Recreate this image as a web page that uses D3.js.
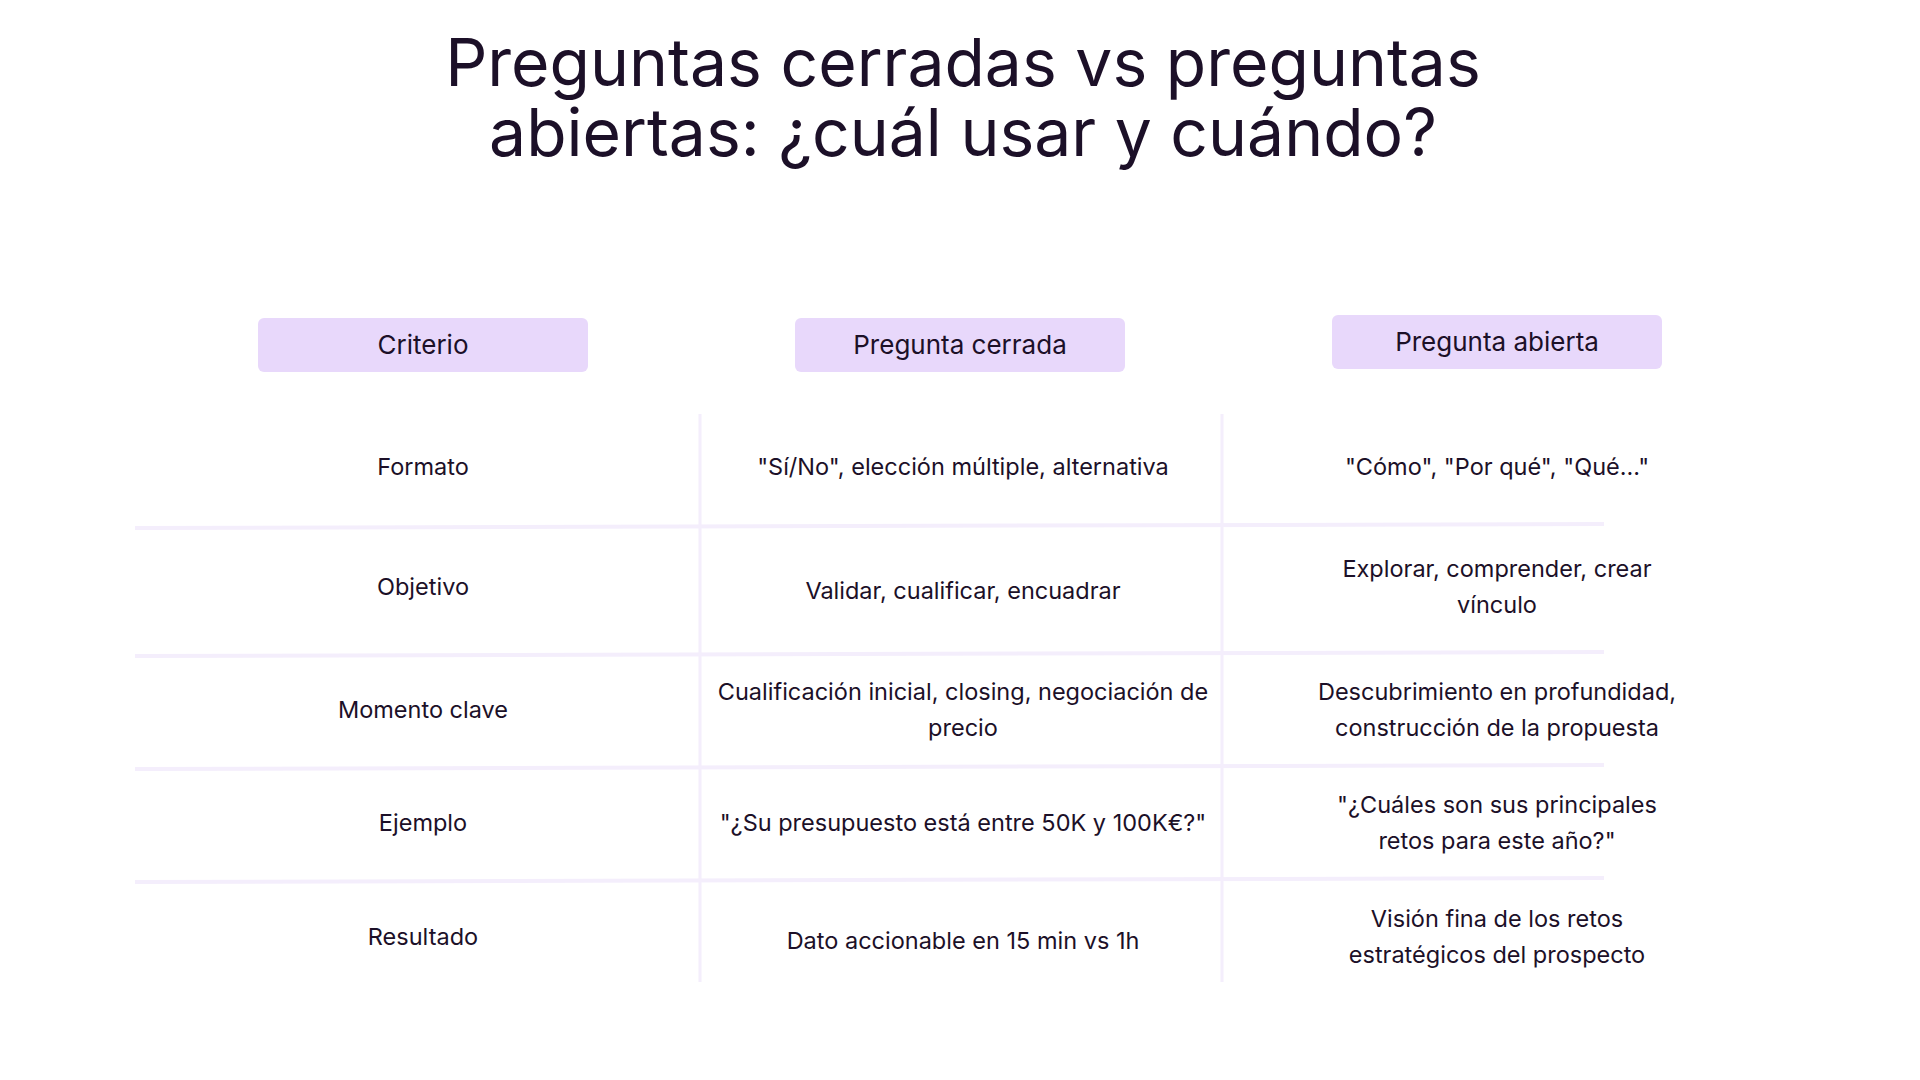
<!DOCTYPE html>
<html><head><meta charset="utf-8">
<script src="https://cdn.jsdelivr.net/npm/d3@7"></script>
<style>body{margin:0;background:#fff;font-family:Inter,"Noto Sans",sans-serif}</style>
</head><body><div id="chart"></div>
<script>
var titleLines = ["Preguntas cerradas vs preguntas", "abiertas: ¿cuál usar y cuándo?"];
var headers = ["Criterio", "Pregunta cerrada", "Pregunta abierta"];
var criterios = ["Formato", "Objetivo", "Momento clave", "Ejemplo", "Resultado"];
var cerrada = [["\"Sí/No\", elección múltiple, alternativa"], ["Validar, cualificar, encuadrar"],
  ["Cualificación inicial, closing, negociación de", "precio"], ["\"¿Su presupuesto está entre 50K y 100K€?\""],
  ["Dato accionable en 15 min vs 1h"]];
var abierta = [["\"Cómo\", \"Por qué\", \"Qué...\""], ["Explorar, comprender, crear", "vínculo"],
  ["Descubrimiento en profundidad,", "construcción de la propuesta"], ["\"¿Cuáles son sus principales", "retos para este año?\""],
  ["Visión fina de los retos", "estratégicos del prospecto"]];

var W = 1920, H = 1080;
var svg = d3.select("#chart").append("svg").attr("width", W).attr("height", H);

svg.selectAll("text.title").data(titleLines).enter().append("text")
  .attr("class", "title").attr("x", 963).attr("y", function(d, i){ return 86 + i * 70; })
  .attr("text-anchor", "middle").attr("font-size", 66).attr("fill", "#1c1028").text(function(d){ return d; });

var x = d3.scalePoint().domain(headers).range([423, 1497]);
var headerY = [345, 345, 342];
headers.forEach(function(h, i){
  svg.append("rect").attr("x", x(h) - 165).attr("y", headerY[i] - 27).attr("width", 330).attr("height", 54)
    .attr("rx", 6).attr("fill", "#e8d8fb");
  svg.append("text").attr("x", x(h)).attr("y", headerY[i]).attr("dy", "0.35em").attr("text-anchor", "middle")
    .attr("font-size", 26).attr("fill", "#1c1028").text(h);
});

var y = d3.scaleOrdinal().domain(criterios).range([467, 587, 710, 823, 937]);
var rowLines = [528, 656, 769, 882];
var grid = svg.append("g");
grid.selectAll("line.h").data(rowLines).enter().append("line")
  .attr("x1", 135).attr("x2", 1604).attr("y1", function(d){ return d; }).attr("y2", function(d){ return d - 4; })
  .attr("stroke", "#f4eefc").attr("stroke-width", 4);
grid.selectAll("line.v").data([700, 1222]).enter().append("line")
  .attr("x1", function(d){ return d; }).attr("x2", function(d){ return d; }).attr("y1", 414).attr("y2", 982)
  .attr("stroke", "#f4eefc").attr("stroke-width", 3);

function cell(lines, cx, cy) {
  var t = svg.append("text").attr("text-anchor", "middle").attr("font-size", 23.5).attr("fill", "#1c1028");
  var lh = 36, y0 = cy - (lines.length - 1) * lh / 2;
  lines.forEach(function(l, i){
    t.append("tspan").attr("x", cx).attr("y", y0 + i * lh).attr("dy", "0.35em").text(l);
  });
}
var colOffsets = [0, 4, 0, 0, 4];
criterios.forEach(function(c, i){
  cell([c], x(headers[0]), y(c));
  cell(cerrada[i], x(headers[1]) + 3, y(c) + colOffsets[i]);
  cell(abierta[i], x(headers[2]), y(c));
});
</script></body></html>
